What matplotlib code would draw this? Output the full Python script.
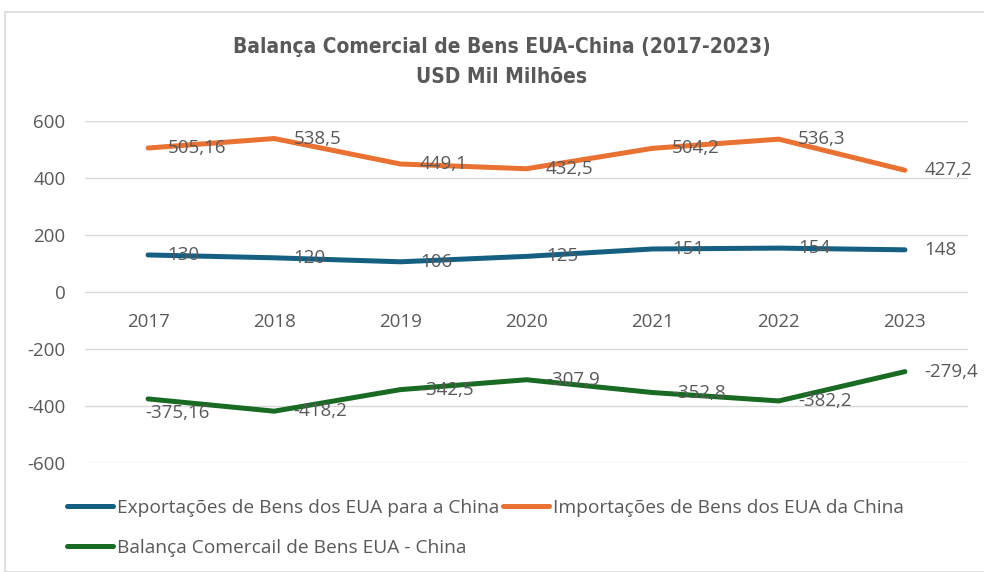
import numpy as np
import matplotlib.pyplot as plt
from matplotlib.patches import Rectangle

plt.rcParams['font.family'] = ['Open Sans', 'DejaVu Sans']

# data
anos = ['2017', '2018', '2019', '2020', '2021', '2022', '2023']
exportacoes = [130, 120, 106, 125, 151, 154, 148]
importacoes = [505.16, 538.5, 449.1, 432.5, 504.2, 536.3, 427.2]
balanca = [-375.16, -418.2, -342.5, -307.9, -352.8, -382.2, -279.4]
nomes = ['Exportações de Bens dos EUA para a China',
         'Importações de Bens dos EUA da China',
         'Balança Comercail de Bens EUA - China']
cores = ['#156082', '#E97132', '#196B24']
yticks = [-600, -400, -200, 0, 200, 400, 600]

cinza = '#595959'
fs = 13.5

def fmt(v):
    # Excel style decimal comma
    if float(v).is_integer():
        return str(int(v))
    return str(v).replace('.', ',')

fig = plt.figure(figsize=(9.84, 5.72), dpi=100)
W, H = 984, 572
# chart border
fig.patches.append(Rectangle((5/W, 0), 2, 1-12/H, transform=fig.transFigure,
                             fill=False, edgecolor='#D9D9D9', lw=1.2))

ax = fig.add_axes([85/W, 1-463/H, (968-85)/W, (463-121)/H])
x = np.arange(len(anos))
series = [exportacoes, importacoes, balanca]
handles = []
for k, (s, nome, c) in enumerate(zip(series, nomes, cores)):
    ln, = ax.plot(x, s, color=c, lw=3.6, solid_capstyle='round', zorder=3, label=nome)
    handles.append(ln)
    for xi, v in zip(x, s):
        off = (14, 0)
        if k == 2 and xi == 0:
            off = (-2, -10)  # label moved below the line in the original
        ax.annotate(fmt(v), (xi, v), xytext=off, textcoords='offset points',
                    ha='left', va='center', fontsize=fs, color=cinza, zorder=4)

ax.set_xlim(-0.5, len(anos)-0.5)
ax.set_ylim(-600, 600)
ax.set_yticks(yticks)
ax.set_yticklabels([str(t) for t in yticks])
ax.set_xticks(x)
ax.set_xticklabels(anos)
ax.grid(axis='y', color='#D9D9D9', lw=1)
ax.set_axisbelow(True)
for sp in ax.spines.values():
    sp.set_visible(False)
ax.spines['bottom'].set_position(('data', 0))
ax.tick_params(axis='both', length=0, labelsize=fs, labelcolor=cinza)
ax.tick_params(axis='x', pad=15)
ax.tick_params(axis='y', pad=14)

tfont = dict(ha='center', va='center', fontsize=15, fontweight='bold', color=cinza,
             family=['DejaVu Sans'], fontstretch='condensed')
fig.text(502/W, 1-47/H, 'Balança Comercial de Bens EUA-China (2017-2023)', **tfont)
fig.text(502/W, 1-77/H, 'USD Mil Milhões', **tfont)

# legend: order so row 1 = exports, imports; row 2 = balance
leg = fig.legend([handles[0], handles[2], handles[1]],
                 [nomes[0], nomes[2], nomes[1]],
                 ncol=2, loc='upper left', bbox_to_anchor=(67/W, 1-499/H),
                 frameon=False, fontsize=13.8, labelcolor=cinza,
                 handlelength=2.4, handletextpad=0.2, columnspacing=0.2,
                 labelspacing=1.15, borderaxespad=0, borderpad=0)
for h in leg.legend_handles:
    h.set_linewidth(3.6)

fig.savefig('out.png', dpi=100)
